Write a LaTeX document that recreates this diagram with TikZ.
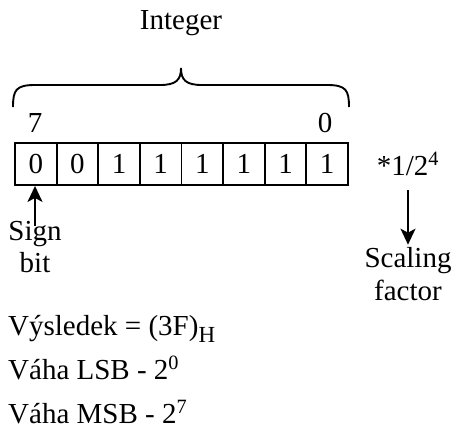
\documentclass[tikz,border=0pt]{standalone}
\usepackage{fontspec}
\setmainfont{Liberation Serif}
\usetikzlibrary{arrows.meta}
\newcommand{\mysub}[1]{\raisebox{-7pt}{\fontsize{23}{23}\selectfont #1}}
\begin{document}
\begin{tikzpicture}[x=1pt,y=-1pt,
  every node/.style={font=\fontsize{29}{33}\selectfont, inner sep=0pt},
  cell/.style={draw, line width=1.9pt, minimum width=41.625pt, minimum height=42pt},
  lbl/.style={anchor=base},
  txt/.style={anchor=base west},
  arr/.style={line width=1.9pt, -{Stealth[length=16pt,width=15pt,inset=4pt]}},
  bracestyle/.style={line width=1.9pt}]
\useasboundingbox (0,0) rectangle (453,429);
\foreach \v [count=\i from 0] in {0,0,1,1,1,1,1,1} {
  \node[cell] (c\i) at ({15+41.625*(\i+0.5)},164) {\v};
}
\draw[bracestyle] (13,107) .. controls (13,90) and (16,85) .. (35,85) -- (160,85)
  .. controls (176,85) and (181,80) .. (181,68)
  .. controls (181,80) and (186,85) .. (202,85) -- (327,85)
  .. controls (346,85) and (349,90) .. (349,107);
\node[lbl] (int) at (181,29) {Integer};
\node[lbl] (b7) at (35,132) {7};
\node[lbl] (b0) at (325,132) {0};
\node[lbl] (scale) at (408,175) {*1/2\textsuperscript{4}};
\node[lbl] (sign1) at (35,240) {Sign};
\node[lbl] (sign2) at (35,272) {bit};
\node[lbl] (scal1) at (408,267) {Scaling};
\node[lbl] (scal2) at (408,300) {factor};
\node[txt] (t1) at (8,335) {Výsledek = (3F)\mysub{H}};
\node[txt] (t2) at (8,379) {Váha LSB - 2\textsuperscript{0}};
\node[txt] (t3) at (8,423) {Váha MSB - 2\textsuperscript{7}};
\draw[arr] ([yshift=-5pt]sign1.north) -- (sign1.north |- c0.south);
\draw[arr] ([yshift=-15pt]scale.south) -- ([yshift=2pt]scal1.north);
\end{tikzpicture}
\end{document}
